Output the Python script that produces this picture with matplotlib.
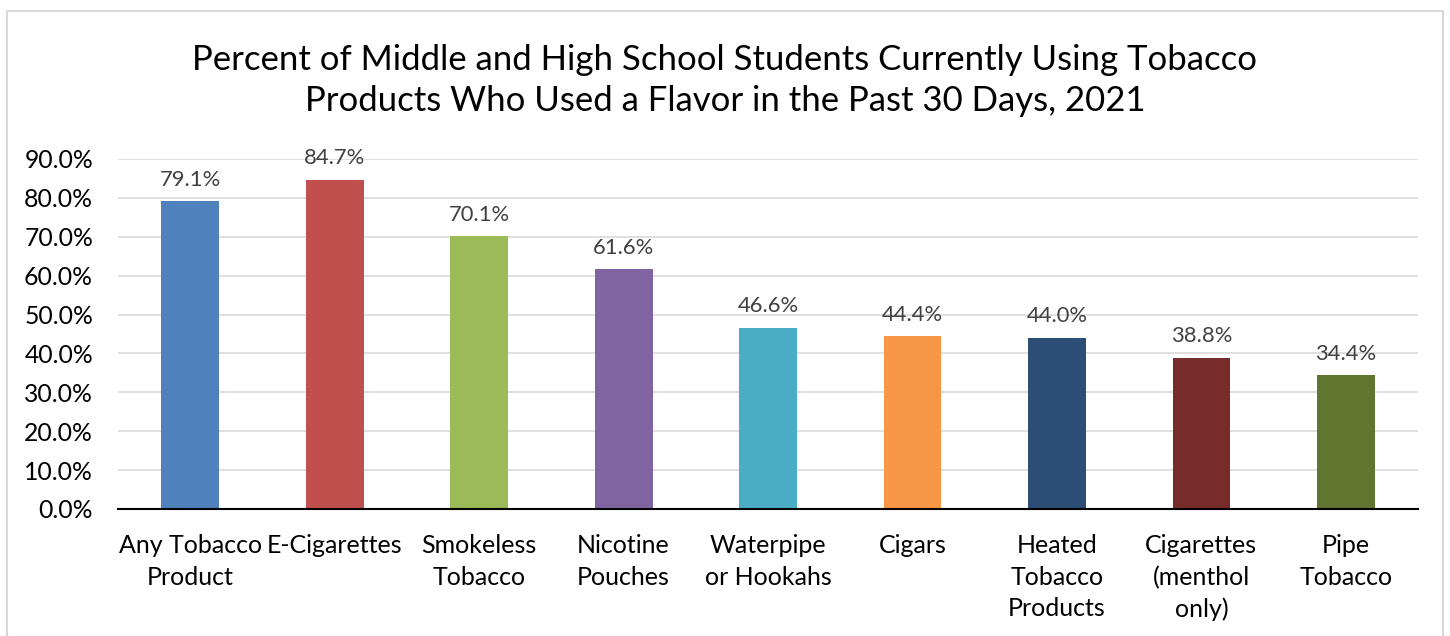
import matplotlib.pyplot as plt
from matplotlib.patches import Rectangle

# Chart data
categories = ["Any Tobacco\nProduct", "E-Cigarettes", "Smokeless\nTobacco", "Nicotine\nPouches",
              "Waterpipe\nor Hookahs", "Cigars", "Heated\nTobacco\nProducts",
              "Cigarettes\n(menthol\nonly)", "Pipe\nTobacco"]
values = [79.1, 84.7, 70.1, 61.6, 46.6, 44.4, 44.0, 38.8, 34.4]
colors = ["#4F81BD", "#C0504D", "#9BBB59", "#8064A2", "#4BACC6",
          "#F79646", "#2C4D75", "#772C2A", "#5F7530"]
yticks = [0, 10, 20, 30, 40, 50, 60, 70, 80, 90]

plt.rcParams['font.family'] = ['Lato', 'DejaVu Sans']

fig = plt.figure(figsize=(14.5, 6.36), dpi=100)
ax = fig.add_axes([0.0814, 0.1997, 0.8966, 0.5503])

# light frame around the whole chart
fig.patches.append(Rectangle((7 / 1450, -0.1), 1436 / 1450, 1.1 - 11 / 636,
                             transform=fig.transFigure, fill=False,
                             edgecolor="#D9D9D9", linewidth=1.5))

x = range(len(categories))
bars = ax.bar(x, values, width=0.4, color=colors, zorder=3)

for b, v in zip(bars, values):
    ax.text(b.get_x() + b.get_width() / 2, v + 3.0, f"{v:.1f}%",
            ha="center", va="bottom", fontsize=15.8, color="#404040")

ax.set_xlim(-0.5, len(categories) - 0.5)
ax.set_ylim(0, 90)
ax.set_yticks(yticks)
ax.set_yticklabels([f"{t:.1f}%" for t in yticks], fontsize=17.8)
ax.set_xticks(list(x))
ax.set_xticklabels(categories, fontsize=18, linespacing=1.45)
ax.tick_params(axis="both", length=0, colors="black")
ax.tick_params(axis="x", pad=18)
ax.tick_params(axis="y", pad=18)

ax.grid(axis="y", color="#D9D9D9", linewidth=1.2, zorder=0)
for s in ["top", "right", "left"]:
    ax.spines[s].set_visible(False)
ax.spines["bottom"].set_color("black")
ax.spines["bottom"].set_linewidth(1.5)
ax.spines["bottom"].set_zorder(4)

fig.text(0.5, 0.874, "Percent of Middle and High School Students Currently Using Tobacco\n"
         "Products Who Used a Flavor in the Past 30 Days, 2021",
         ha="center", va="center", fontsize=25, linespacing=1.35)

plt.savefig("out.png", dpi=100)
